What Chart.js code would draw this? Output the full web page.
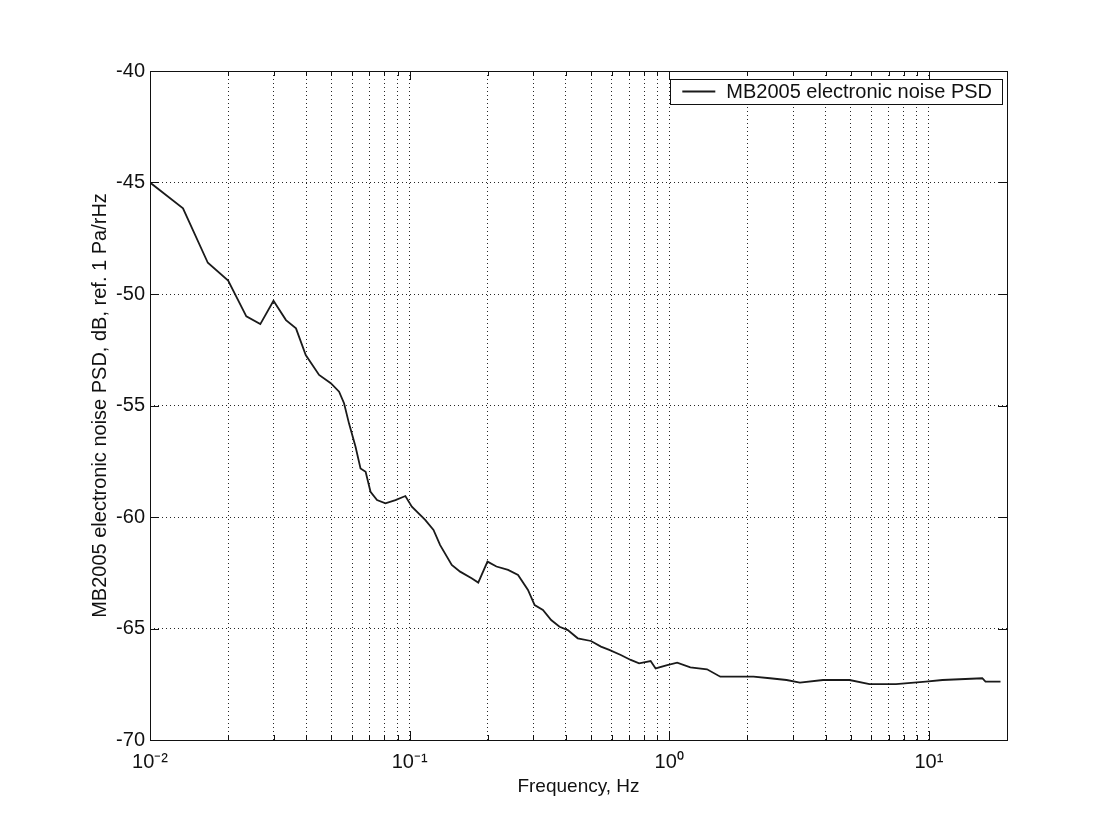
<!DOCTYPE html>
<html>
<head>
<meta charset="utf-8">
<title>MB2005 electronic noise PSD</title>
<script src="https://cdn.jsdelivr.net/npm/chart.js@4.4.0/dist/chart.umd.min.js"></script>
<style>
  html, body { margin: 0; padding: 0; background: #fff; }
  canvas { display: block; }
</style>
</head>
<body>
<canvas id="psd" width="1106" height="829"></canvas>
<script>
// values
const freqHz = [
  0.0100, 0.0134, 0.0167, 0.0200, 0.0235, 0.0266, 0.0299, 0.0334, 0.0365, 0.0398,
  0.0448, 0.0497, 0.0535, 0.0559, 0.0584, 0.0619, 0.0647, 0.0677, 0.0707, 0.0749,
  0.0807, 0.0882, 0.0963, 0.1020, 0.1148, 0.1236, 0.1311, 0.1453, 0.1565, 0.1733,
  0.1838, 0.1995, 0.2160, 0.2395, 0.2616, 0.2857, 0.3031, 0.3262, 0.3509, 0.3780,
  0.4067, 0.4442, 0.4995, 0.5457, 0.5875, 0.6508, 0.7108, 0.7655, 0.8480, 0.8862,
  0.9824, 1.073, 1.206, 1.398, 1.573, 1.770, 2.111, 2.444, 2.832, 3.186,
  3.914, 4.951, 5.906, 7.475, 9.739, 11.28, 16.06, 16.53, 18.88
];
const psdDb = [
  -45.00, -46.16, -48.60, -49.40, -51.00, -51.35, -50.30, -51.17, -51.54, -52.74,
  -53.63, -54.00, -54.38, -54.90, -55.80, -56.85, -57.82, -57.97, -58.87, -59.24,
  -59.39, -59.24, -59.06, -59.54, -60.13, -60.58, -61.26, -62.15, -62.45, -62.75,
  -62.94, -62.00, -62.22, -62.37, -62.60, -63.27, -63.95, -64.17, -64.62, -64.92,
  -65.07, -65.44, -65.56, -65.81, -65.96, -66.19, -66.41, -66.56, -66.46, -66.79,
  -66.64, -66.53, -66.74, -66.83, -67.16, -67.16, -67.16, -67.23, -67.31, -67.43,
  -67.31, -67.31, -67.49, -67.49, -67.38, -67.31, -67.23, -67.38, -67.38
];

const seriesLabel = 'MB2005 electronic noise PSD';
const xTitle = 'Frequency, Hz';
const yTitle = 'MB2005 electronic noise PSD, dB, ref. 1 Pa/rHz';
const xMin = 0.01, xMax = 20;
const yMin = -70, yMax = -40, yStep = 5;
const xDecades = [0.01, 0.1, 1, 10];
const xMultipliers = [1, 2, 3, 4, 5, 6, 7, 8, 9];

const FONT = 'Liberation Sans, Arial, Helvetica, sans-serif';
const INK = '#111';

const xTickValues = [];
xDecades.forEach(d => {
  xMultipliers.forEach(m => {
    const v = d * m;
    if (v <= xMax + 1e-9) xTickValues.push(v);
  });
});

const sup = { '-': '\u207B', '0': '\u2070', '1': '\u00B9', '2': '\u00B2', '3': '\u00B3' };
const isDecade = v => Math.abs(Math.log10(v) - Math.round(Math.log10(v))) < 1e-9;
const decadeLabel = v => '10' + String(Math.round(Math.log10(v))).split('').map(c => sup[c]).join('');

// axes box with inward tick marks, like the matlab figure
const frame = {
  id: 'frame',
  afterDraw(chart) {
    const { ctx, chartArea: a, scales: { x, y } } = chart;
    ctx.save();
    ctx.strokeStyle = INK;
    ctx.lineWidth = 1;
    ctx.setLineDash([]);
    ctx.beginPath();
    xTickValues.forEach(v => {
      const px = Math.round(x.getPixelForValue(v)) + 0.5;
      const len = isDecade(v) ? 9 : 5;
      ctx.moveTo(px, a.bottom); ctx.lineTo(px, a.bottom - len);
      ctx.moveTo(px, a.top); ctx.lineTo(px, a.top + len);
    });
    y.ticks.forEach(t => {
      const py = Math.round(y.getPixelForValue(t.value)) + 0.5;
      ctx.moveTo(a.left, py); ctx.lineTo(a.left + 9, py);
      ctx.moveTo(a.right, py); ctx.lineTo(a.right - 9, py);
    });
    ctx.stroke();
    ctx.strokeRect(Math.round(a.left) + 0.5, Math.round(a.top) + 0.5,
      Math.round(a.right - a.left), Math.round(a.bottom - a.top));
    ctx.restore();
  }
};

// legend box in the upper right corner of the axes
const boxLegend = {
  id: 'boxLegend',
  afterDraw(chart) {
    const { ctx, chartArea: a } = chart;
    const ds = chart.data.datasets[0];
    ctx.save();
    ctx.font = '20px ' + FONT;
    const tw = ctx.measureText(ds.label).width;
    const w = 12 + 33 + 11 + tw + 10;
    const h = 25;
    const left = a.right - 5 - w;
    const top = a.top + 8;
    ctx.fillStyle = '#fff';
    ctx.fillRect(left, top, w, h);
    ctx.strokeStyle = INK;
    ctx.lineWidth = 1;
    ctx.strokeRect(Math.round(left) + 0.5, top + 0.5, Math.round(w), h);
    ctx.strokeStyle = ds.borderColor;
    ctx.lineWidth = ds.borderWidth;
    ctx.beginPath();
    ctx.moveTo(left + 12, top + h / 2);
    ctx.lineTo(left + 45, top + h / 2);
    ctx.stroke();
    ctx.fillStyle = INK;
    ctx.textBaseline = 'middle';
    ctx.fillText(ds.label, left + 56, top + h / 2 + 1);
    ctx.restore();
  }
};

new Chart(document.getElementById('psd'), {
  type: 'line',
  data: {
    datasets: [{
      label: seriesLabel,
      data: freqHz.map((f, i) => ({ x: f, y: psdDb[i] })),
      borderColor: '#1a1a1a',
      borderWidth: 1.8,
      pointRadius: 0,
      tension: 0,
      fill: false
    }]
  },
  options: {
    responsive: false,
    devicePixelRatio: 1,
    animation: false,
    layout: { padding: { left: 0, right: 99, top: 71, bottom: 0 } },
    plugins: {
      legend: { display: false },
      tooltip: { enabled: false }
    },
    scales: {
      x: {
        type: 'logarithmic',
        min: xMin,
        max: xMax,
        afterFit: s => { s.height = 89; },
        afterBuildTicks: s => { s.ticks = xTickValues.map(v => ({ value: v })); },
        ticks: {
          autoSkip: false,
          maxRotation: 0,
          padding: 10,
          color: INK,
          font: { family: FONT, size: 20 },
          callback: v => isDecade(v) ? decadeLabel(v) : ''
        },
        grid: { color: 'rgba(0,0,0,0.85)', lineWidth: 1, drawTicks: false },
        border: { display: false, dash: [1, 3] },
        title: {
          display: true,
          text: xTitle,
          color: INK,
          font: { family: FONT, size: 19 },
          padding: { top: 0, bottom: 31 }
        }
      },
      y: {
        min: yMin,
        max: yMax,
        afterFit: s => { s.width = 150; },
        ticks: {
          stepSize: yStep,
          padding: 5,
          color: INK,
          font: { family: FONT, size: 20 }
        },
        grid: { color: 'rgba(0,0,0,0.85)', lineWidth: 1, drawTicks: false },
        border: { display: false, dash: [1, 3] },
        title: {
          display: true,
          text: yTitle,
          color: INK,
          font: { family: FONT, size: 20 },
          padding: { top: 88, bottom: 0 }
        }
      }
    }
  },
  plugins: [frame, boxLegend]
});
</script>
</body>
</html>
